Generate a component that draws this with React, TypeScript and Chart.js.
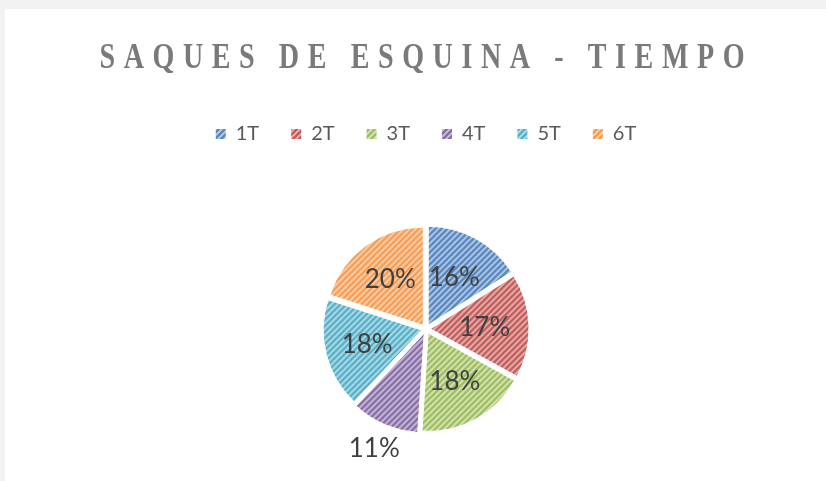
import React, { useEffect, useRef } from "react";
import { Chart, registerables } from "chart.js";

Chart.register(...registerables);

const TITLE = "SAQUES DE ESQUINA - TIEMPO";
const CATEGORIES = ["1T", "2T", "3T", "4T", "5T", "6T"];
const VALUES = [16, 17, 18, 11, 18, 20];
const COLORS = ["#4F81BD", "#C0504D", "#9BBB59", "#8064A2", "#4BACC6", "#F79646"];
// radial position of each data label, as a fraction of the radius
const LABEL_RADIAL = [0.6, 0.6, 0.61, 1.33, 0.62, 0.62];

function mix(hex: string, t: number): string {
  const n = parseInt(hex.slice(1), 16);
  const r = (n >> 16) & 255, g = (n >> 8) & 255, b = n & 255;
  const m = (c: number) => Math.round(c + (255 - c) * t);
  return `rgb(${m(r)},${m(g)},${m(b)})`;
}

function hatch(color: string): CanvasPattern | string {
  const s = 6;
  const c = document.createElement("canvas");
  c.width = s;
  c.height = s;
  const x = c.getContext("2d");
  if (!x) return color;
  x.fillStyle = mix(color, 0.6);
  x.fillRect(0, 0, s, s);
  x.strokeStyle = mix(color, 0.05);
  x.lineWidth = 2.4;
  x.beginPath();
  for (const k of [0, s, 2 * s]) {
    x.moveTo(-1, k + 1);
    x.lineTo(k + 1, -1);
  }
  x.stroke();
  const p = x.createPattern(c, "repeat");
  return p || color;
}

const backgroundPlugin = {
  id: "bg",
  beforeDraw(chart: any) {
    const { ctx, width, height } = chart;
    ctx.save();
    ctx.fillStyle = "#f2f2f2";
    ctx.fillRect(0, 0, width, height);
    ctx.fillStyle = "#ffffff";
    ctx.fillRect(5, 9, width - 5, height - 9);
    ctx.restore();
  },
};

const titlePlugin = {
  id: "spacedTitle",
  afterDraw(chart: any) {
    const ctx = chart.ctx;
    const spacing = 11;
    const sx = 0.78;
    ctx.save();
    ctx.font = 'bold 36px "Liberation Serif"';
    ctx.fillStyle = "#7a7a7a";
    ctx.letterSpacing = spacing + "px";
    ctx.textAlign = "left";
    ctx.textBaseline = "alphabetic";
    const w = ctx.measureText(TITLE).width - spacing;
    const cx = (chart.chartArea.left + chart.chartArea.right) / 2 - 4;
    ctx.translate(cx - (w * sx) / 2, 68);
    ctx.scale(sx, 1);
    ctx.fillText(TITLE, 0, 0);
    ctx.restore();
  },
};

const legendSpacer = {
  id: "legendSpacer",
  beforeLayout(chart: any) {
    const lg = chart.legend;
    if (lg && !lg._spaced) {
      const orig = lg.fit;
      lg.fit = function (this: any) {
        orig.call(this);
        this.height += 23;
      };
      lg._spaced = true;
    }
  },
};

const labelPlugin = {
  id: "pieLabels",
  afterDatasetsDraw(chart: any) {
    const ctx = chart.ctx;
    const meta = chart.getDatasetMeta(0);
    const total = VALUES.reduce((a, b) => a + b, 0);
    ctx.save();
    ctx.font = '26px Lato';
    ctx.fillStyle = "#404040";
    ctx.textAlign = "center";
    ctx.textBaseline = "middle";
    meta.data.forEach((arc: any, i: number) => {
      const { x, y, startAngle, endAngle, outerRadius } = arc.getProps(
        ["x", "y", "startAngle", "endAngle", "outerRadius"],
        true
      );
      const mid = (startAngle + endAngle) / 2;
      const r = outerRadius * LABEL_RADIAL[i];
      const pct = Math.round((VALUES[i] / total) * 100);
      ctx.fillText(pct + "%", x + Math.cos(mid) * r, y + Math.sin(mid) * r);
    });
    ctx.restore();
  },
};

export default function App() {
  const ref = useRef<HTMLCanvasElement | null>(null);

  useEffect(() => {
    if (!ref.current) return;
    const fills = COLORS.map((c) => hatch(c));
    const chart = new Chart(ref.current, {
      type: "pie",
      data: {
        labels: CATEGORIES,
        datasets: [
          {
            data: VALUES,
            backgroundColor: fills as any,
            borderColor: "#ffffff",
            borderWidth: 1,
            offset: 18,
            radius: 98,
          } as any,
        ],
      },
      options: {
        responsive: false,
        animation: false,
        layout: { padding: { top: 92, left: 26, right: 0, bottom: 0 } },
        plugins: {
          title: { display: false },
          tooltip: { enabled: false },
          legend: {
            display: true,
            position: "top",
            labels: {
              boxWidth: 10,
              boxHeight: 10,
              padding: 32,
              color: "#595959",
              font: { family: "Lato", size: 20 },
              generateLabels: (c: any) =>
                (Chart as any).overrides.pie.plugins.legend.labels
                  .generateLabels(c)
                  .map((l: any) => ({ ...l, lineWidth: 0 })),
            },
          },
        },
      },
      plugins: [backgroundPlugin, legendSpacer, titlePlugin, labelPlugin],
    });
    return () => chart.destroy();
  }, []);

  return (
    <div style={{ position: "fixed", left: 0, top: 0, width: 826, height: 481 }}>
      <canvas ref={ref} width={826} height={481} style={{ display: "block" }} />
    </div>
  );
}
